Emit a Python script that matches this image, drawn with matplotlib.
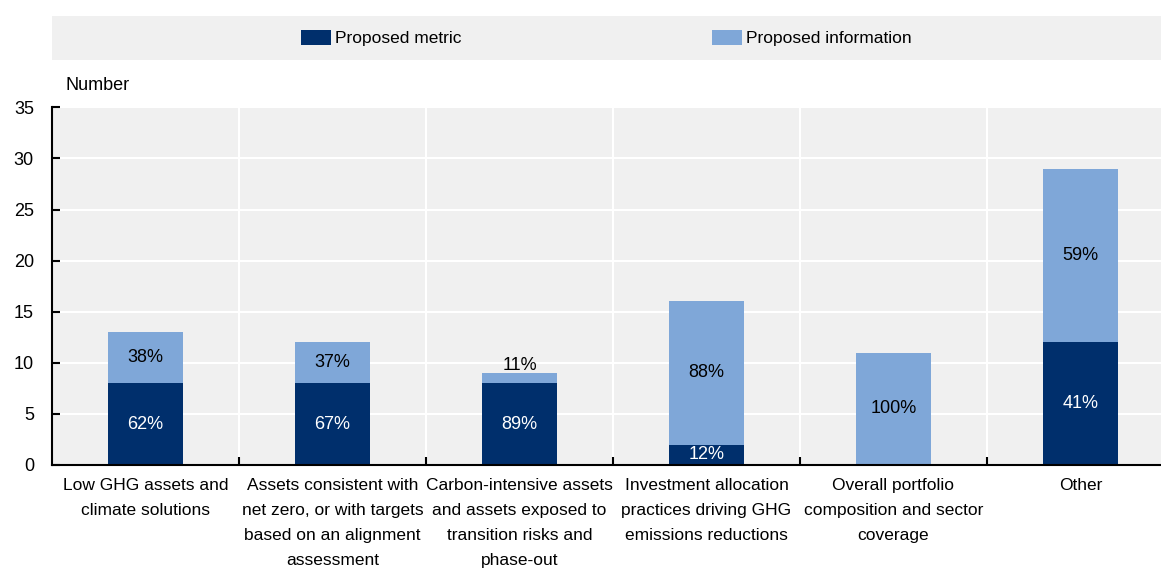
import numpy as np
import matplotlib
matplotlib.use('Agg')
import matplotlib.pyplot as plt
from matplotlib.patches import Patch

plt.rcParams['font.family'] = ['Liberation Sans', 'DejaVu Sans']

# Counts per category, split by type of proposal
Categories = ['Low GHG assets and\nclimate solutions',
              'Assets consistent with\nnet zero, or with targets\nbased on an alignment\nassessment',
              'Carbon-intensive assets\nand assets exposed to\ntransition risks and\nphase-out',
              'Investment allocation\npractices driving GHG\nemissions reductions',
              'Overall portfolio\ncomposition and sector\ncoverage',
              'Other']
Metric = [8, 8, 8, 2, 0, 12]
Info = [5, 4, 1, 14, 11, 17]
Metric_Lbl = ['62%', '67%', '89%', '12%', '', '41%']
Info_Lbl = ['38%', '37%', '11%', '88%', '100%', '59%']
Y_Ticks = [0, 5, 10, 15, 20, 25, 30, 35]

C_Met = '#002f6c'
C_Inf = '#7fa7d8'
C_Bg = '#f0f0f0'
FS = 12.5

fig = plt.figure(figsize=(11.61, 5.74), dpi=100)
# six categories of equal width; the last one runs a little past the right edge
ax = fig.add_axes([52 / 1161, 0.19, 1122 / 1161, 0.623])
ax.set_facecolor(C_Bg)

x = np.arange(len(Categories))
Metric = np.array(Metric)
Info = np.array(Info)
ax.bar(x, Metric, width=0.40, color=C_Met, zorder=3)
ax.bar(x, Info, width=0.40, bottom=Metric, color=C_Inf, zorder=3)

for i in range(len(x)):
    if Metric_Lbl[i]:
        ax.text(x[i], Metric[i] / 2, Metric_Lbl[i], ha='center', va='center',
                color='white', fontsize=FS + 0.5, zorder=4)
    if Info[i] < 1.5:
        y_i = Metric[i] + Info[i] + 0.7
    else:
        y_i = Metric[i] + Info[i] / 2
    ax.text(x[i], y_i, Info_Lbl[i], ha='center', va='center',
            color='black', fontsize=FS + 0.5, zorder=4)

ax.set_xlim(-0.5, len(x) - 0.5)
ax.set_ylim(0, 35)
ax.set_yticks(Y_Ticks)
ax.set_xticks(x)
ax.set_xticklabels(Categories, fontsize=FS, linespacing=1.83)
ax.set_xticks(np.arange(0.5, len(x) - 0.5, 1), minor=True)
ax.tick_params(axis='x', which='major', length=0, pad=9.5)
ax.tick_params(axis='x', which='minor', direction='in', length=6, width=1.5, color='black')
ax.tick_params(axis='y', direction='in', length=6, width=1.5, labelsize=FS + 0.5, pad=13)

# white grid: horizontal at y ticks, vertical between categories
for yv in Y_Ticks[1:]:
    ax.axhline(yv, color='white', linewidth=1.5, zorder=1)
for xv in np.arange(0.5, len(x) - 0.5, 1):
    ax.axvline(xv, color='white', linewidth=1.5, zorder=1)

for s in ['top', 'right']:
    ax.spines[s].set_visible(False)
for s in ['left', 'bottom']:
    ax.spines[s].set_linewidth(1.5)
    ax.spines[s].set_zorder(5)

ax.text(0.012, 1.06, 'Number', transform=ax.transAxes, fontsize=FS + 0.5,
        ha='left', va='center')

# legend strip on top
ax_leg = fig.add_axes([52 / 1161, 1 - 60 / 574, 1109 / 1161, 44 / 574])
ax_leg.set_facecolor(C_Bg)
ax_leg.set_xticks([])
ax_leg.set_yticks([])
for s in ax_leg.spines.values():
    s.set_visible(False)
Handles = [Patch(facecolor=C_Met, label='Proposed metric'),
           Patch(facecolor=C_Inf, label='Proposed information')]
ax_leg.legend(handles=Handles, loc='center', ncol=2, frameon=False, fontsize=FS,
              handlelength=1.72, handleheight=0.95, handletextpad=0.25, columnspacing=14.4)

fig.savefig('out.png', dpi=100)
